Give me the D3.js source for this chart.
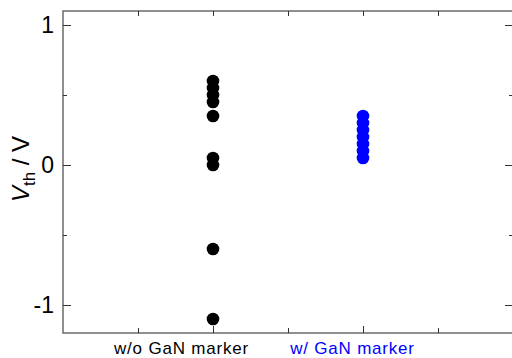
<!DOCTYPE html>
<html>
<head>
<meta charset="utf-8">
<script src="https://cdn.jsdelivr.net/npm/d3@7"></script>
<style>
  body { margin: 0; background: #fff; }
  text { font-family: Arial, "Liberation Sans", sans-serif; }
</style>
</head>
<body>
<script>
// data
var groups = ["w/o GaN marker", "w/ GaN marker"];
var groupX = [2, 4];
var labelX = [1.58, 3.86];   // labels sit a bit left of the point columns
var groupColors = ["#000000", "#0000ff"];
var vthWithout = [0.6, 0.55, 0.5, 0.45, 0.35, 0.05, 0.0, -0.6, -1.1];
var vthWith = [0.35, 0.3, 0.25, 0.2, 0.15, 0.1, 0.05];
var yTicks = [-1, 0, 1];
var yMinor = [-0.5, 0.5];
var xTicks = [1, 2, 3, 4, 5];

var w = 512, h = 358;
// plot box (note: "top" is reserved on window, so use other names)
var pLeft = 63, pRight = 513, pTop = 11, pBottom = 333;

var svg = d3.select("body").append("svg")
    .attr("width", w)
    .attr("height", h);

var xScale = d3.scaleLinear().domain([0, 6]).range([pLeft, pRight]);
var yScale = d3.scaleLinear().domain([-1.2, 1.1]).range([pBottom, pTop]);

var frameColor = "#6b6b6b";

// frame
svg.append("rect")
    .attr("x", pLeft).attr("y", pTop)
    .attr("width", pRight - pLeft).attr("height", pBottom - pTop)
    .attr("fill", "none")
    .attr("stroke", frameColor)
    .attr("stroke-width", 1.5);

// y ticks, inward on both sides
var yAxisL = d3.axisLeft(yScale).tickValues(yTicks).tickSize(-8).tickFormat(d3.format("d"));
var gy = svg.append("g").attr("transform", "translate(" + pLeft + ",0)").call(yAxisL);
gy.select(".domain").remove();
gy.selectAll("line").attr("stroke", "#333");
gy.selectAll("text")
    .attr("x", -9)
    .style("font-size", "23px")
    .attr("fill", "#000")
    .text(function(d){ return d === 0 ? "0" : (d < 0 ? "-1" : "1"); });

var gyMin = svg.append("g").attr("transform", "translate(" + pLeft + ",0)")
    .call(d3.axisLeft(yScale).tickValues(yMinor).tickSize(-4).tickFormat(""));
gyMin.select(".domain").remove();
gyMin.selectAll("line").attr("stroke", "#333");

var gyR = svg.append("g").attr("transform", "translate(" + pRight + ",0)")
    .call(d3.axisRight(yScale).tickValues(yTicks).tickSize(-8).tickFormat(""));
gyR.select(".domain").remove();
gyR.selectAll("line").attr("stroke", "#333");
var gyRMin = svg.append("g").attr("transform", "translate(" + pRight + ",0)")
    .call(d3.axisRight(yScale).tickValues(yMinor).tickSize(-4).tickFormat(""));
gyRMin.select(".domain").remove();
gyRMin.selectAll("line").attr("stroke", "#333");

// x ticks, inward top and bottom
var gx = svg.append("g").attr("transform", "translate(0," + pBottom + ")")
    .call(d3.axisBottom(xScale).tickValues(xTicks).tickSize(-6).tickFormat(""));
gx.select(".domain").remove();
gx.selectAll("line").attr("stroke", "#333")
    .attr("y2", function(d){ return groupX.indexOf(d) >= 0 ? -7 : -5; });

var gxT = svg.append("g").attr("transform", "translate(0," + pTop + ")")
    .call(d3.axisTop(xScale).tickValues(xTicks).tickSize(-5).tickFormat(""));
gxT.select(".domain").remove();
gxT.selectAll("line").attr("stroke", "#333");

// category labels
svg.selectAll(".cat")
    .data(groups)
    .enter()
    .append("text")
    .attr("class", "cat")
    .attr("x", function(d, i){ return xScale(labelX[i]); })
    .attr("y", 354)
    .attr("text-anchor", "middle")
    .attr("fill", function(d, i){ return groupColors[i]; })
    .style("font-size", "17px")
    .style("letter-spacing", "0.8px")
    .text(function(d){ return d; });

// points
var series = [vthWithout, vthWith];
series.forEach(function(vals, i){
    svg.append("g").selectAll("circle")
        .data(vals)
        .enter()
        .append("circle")
        .attr("cx", xScale(groupX[i]))
        .attr("cy", function(d){ return yScale(d); })
        .attr("r", 6.3)
        .attr("fill", groupColors[i]);
});

// y label
var yl = svg.append("text")
    .attr("transform", "translate(29,169) rotate(-90)")
    .attr("text-anchor", "middle")
    .style("font-size", "24px")
    .attr("fill", "#000");
yl.append("tspan").style("font-style", "italic").text("V");
yl.append("tspan").attr("dy", 6).style("font-size", "17px").text("th");
yl.append("tspan").attr("dy", -6).text(" / V");
</script>
</body>
</html>
